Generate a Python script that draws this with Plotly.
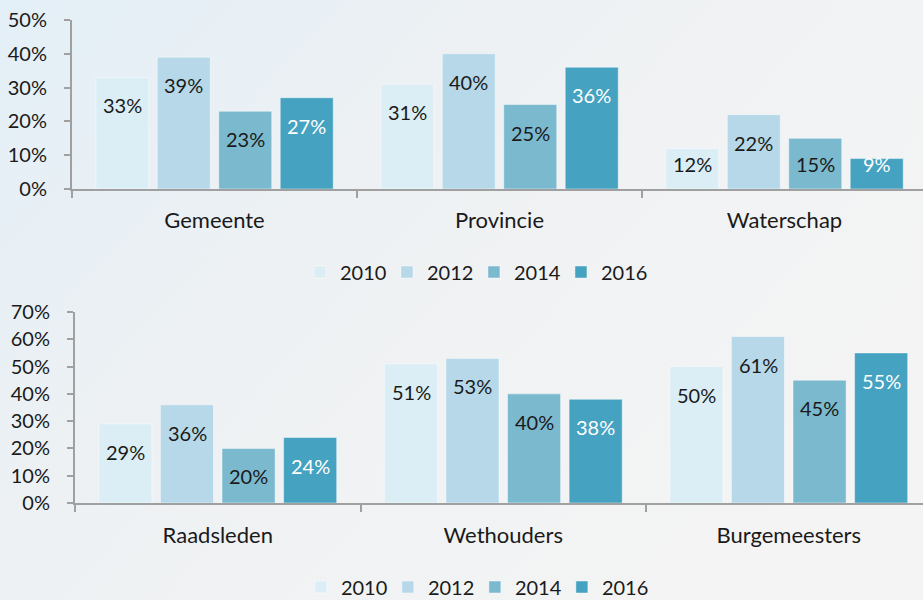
import base64
import plotly.graph_objects as go

# ---- data ----
years = ["2010", "2012", "2014", "2016"]

top_categories = ["Gemeente", "Provincie", "Waterschap"]
top_2010 = [33, 31, 12]
top_2012 = [39, 40, 22]
top_2014 = [23, 25, 15]
top_2016 = [27, 36, 9]

bottom_categories = ["Raadsleden", "Wethouders", "Burgemeesters"]
bottom_2010 = [29, 51, 50]
bottom_2012 = [36, 53, 61]
bottom_2014 = [20, 40, 45]
bottom_2016 = [24, 38, 55]

top_ticks = [0, 10, 20, 30, 40, 50]
bottom_ticks = [0, 10, 20, 30, 40, 50, 60, 70]

# ---- style ----
colors = ["#dbeef5", "#b6d8e8", "#7bb9cf", "#45a2c0"]
label_colors = ["#1a1a1a", "#1a1a1a", "#1a1a1a", "#ffffff"]
FONT = "Lato, 'Open Sans', sans-serif"
W, H = 923, 600

top_series = [top_2010, top_2012, top_2014, top_2016]
bottom_series = [bottom_2010, bottom_2012, bottom_2014, bottom_2016]

fig = go.Figure()

for i, yr in enumerate(years):
    fig.add_trace(go.Bar(
        x=top_categories, y=top_series[i], name=yr,
        marker=dict(color=colors[i], line=dict(color="rgba(255,255,255,0.45)", width=1)),
        xaxis="x", yaxis="y", legend="legend", legendgroup="top" + yr,
        hoverinfo="skip",
    ))
for i, yr in enumerate(years):
    fig.add_trace(go.Bar(
        x=bottom_categories, y=bottom_series[i], name=yr,
        marker=dict(color=colors[i], line=dict(color="rgba(255,255,255,0.45)", width=1)),
        xaxis="x2", yaxis="y2", legend="legend2", legendgroup="bot" + yr,
        hoverinfo="skip",
    ))

# pixel geometry
top_y0, top_y1 = 189, 20      # pixel rows of 0% and 50%
bot_y0, bot_y1 = 503, 312     # pixel rows of 0% and 70%
top_x0, bot_x0 = 72, 75
top_pitch, bot_pitch = 285, 285.5
top_pxu = (top_y0 - top_y1) / 50.0
bot_pxu = (bot_y0 - bot_y1) / 70.0

# value labels (inside end of each bar)
def add_labels(cats, series, xref, yref, pxu):
    n = len(series)
    for i, vals in enumerate(series):
        for j, v in enumerate(vals):
            shift = min(28, v * pxu - 25)
            fig.add_annotation(
                x=cats[j], y=v, xref=xref, yref=yref,
                text=f"{v}%", showarrow=False, yanchor="middle",
                xshift=(i - (n - 1) / 2) * 61.5, yshift=-shift,
                font=dict(family=FONT, size=20, color=label_colors[i]),
            )

add_labels(top_categories, top_series, "x", "y", top_pxu)
add_labels(bottom_categories, bottom_series, "x2", "y2", bot_pxu)

axis_common = dict(
    showgrid=False, zeroline=False, showline=True, linecolor="#a0a0a0", linewidth=2,
    ticks="outside", tickcolor="#a0a0a0", tickwidth=2,
    tickfont=dict(family=FONT, size=20, color="#1a1a1a"),
    fixedrange=True,
)
xfont = dict(family=FONT, size=22, color="#1a1a1a")
legend_common = dict(orientation="h", xanchor="center", yanchor="middle",
                     font=dict(family=FONT, size=20, color="#1a1a1a"),
                     bgcolor="rgba(0,0,0,0)", entrywidth=42, entrywidthmode="pixels",
                     itemclick=False, itemdoubleclick=False)

fig.update_layout(
    width=W, height=H,
    margin=dict(l=0, r=0, t=0, b=0, autoexpand=False),
    paper_bgcolor="#f2f3f4",
    plot_bgcolor="rgba(0,0,0,0)",
    barmode="group", bargap=0.137, bargroupgap=0.138,
    font=dict(family=FONT, color="#1a1a1a"),
    showlegend=True,
    xaxis=dict(axis_common, domain=[top_x0 / W, 1], anchor="y",
               range=[-0.5, -0.5 + (W - top_x0) / top_pitch], tickfont=xfont,
               tickson="boundaries", ticklen=7, ticklabelstandoff=11),
    yaxis=dict(axis_common, domain=[1 - top_y0 / H, 1 - top_y1 / H], anchor="x",
               range=[0, 50], tickmode="array", tickvals=top_ticks,
               ticktext=[f"{t}%" for t in top_ticks], ticklen=6,
               ticklabelstandoff=13),
    xaxis2=dict(axis_common, domain=[bot_x0 / W, 1], anchor="y2",
                range=[-0.5, -0.5 + (W - bot_x0) / bot_pitch], tickfont=xfont,
                tickson="boundaries", ticklen=7, ticklabelstandoff=12),
    yaxis2=dict(axis_common, domain=[1 - bot_y0 / H, 1 - bot_y1 / H], anchor="x2",
                range=[0, 70], tickmode="array", tickvals=bottom_ticks,
                ticktext=[f"{t}%" for t in bottom_ticks], ticklen=6,
                ticklabelstandoff=13),
    legend=dict(legend_common, x=0.5135, y=1 - 272 / H),
    legend2=dict(legend_common, x=0.5145, y=1 - 587 / H),
)

# soft background gradient (light blue top-left to neutral grey)
svg = f"""<svg xmlns='http://www.w3.org/2000/svg' width='{W}' height='{H}' preserveAspectRatio='none'>
<defs><linearGradient id='g' x1='0' y1='0' x2='1' y2='0.6'>
<stop offset='0' stop-color='#e3eff7'/><stop offset='0.45' stop-color='#eef1f3'/>
<stop offset='1' stop-color='#f4f4f4'/></linearGradient></defs>
<rect width='{W}' height='{H}' fill='url(#g)'/></svg>"""
src = "data:image/svg+xml;base64," + base64.b64encode(svg.encode()).decode()
fig.add_layout_image(dict(source=src, xref="paper", yref="paper", x=0, y=1,
                          sizex=1, sizey=1, xanchor="left", yanchor="top",
                          sizing="stretch", layer="below"))

fig.write_html("out.html", config={"displayModeBar": False})
